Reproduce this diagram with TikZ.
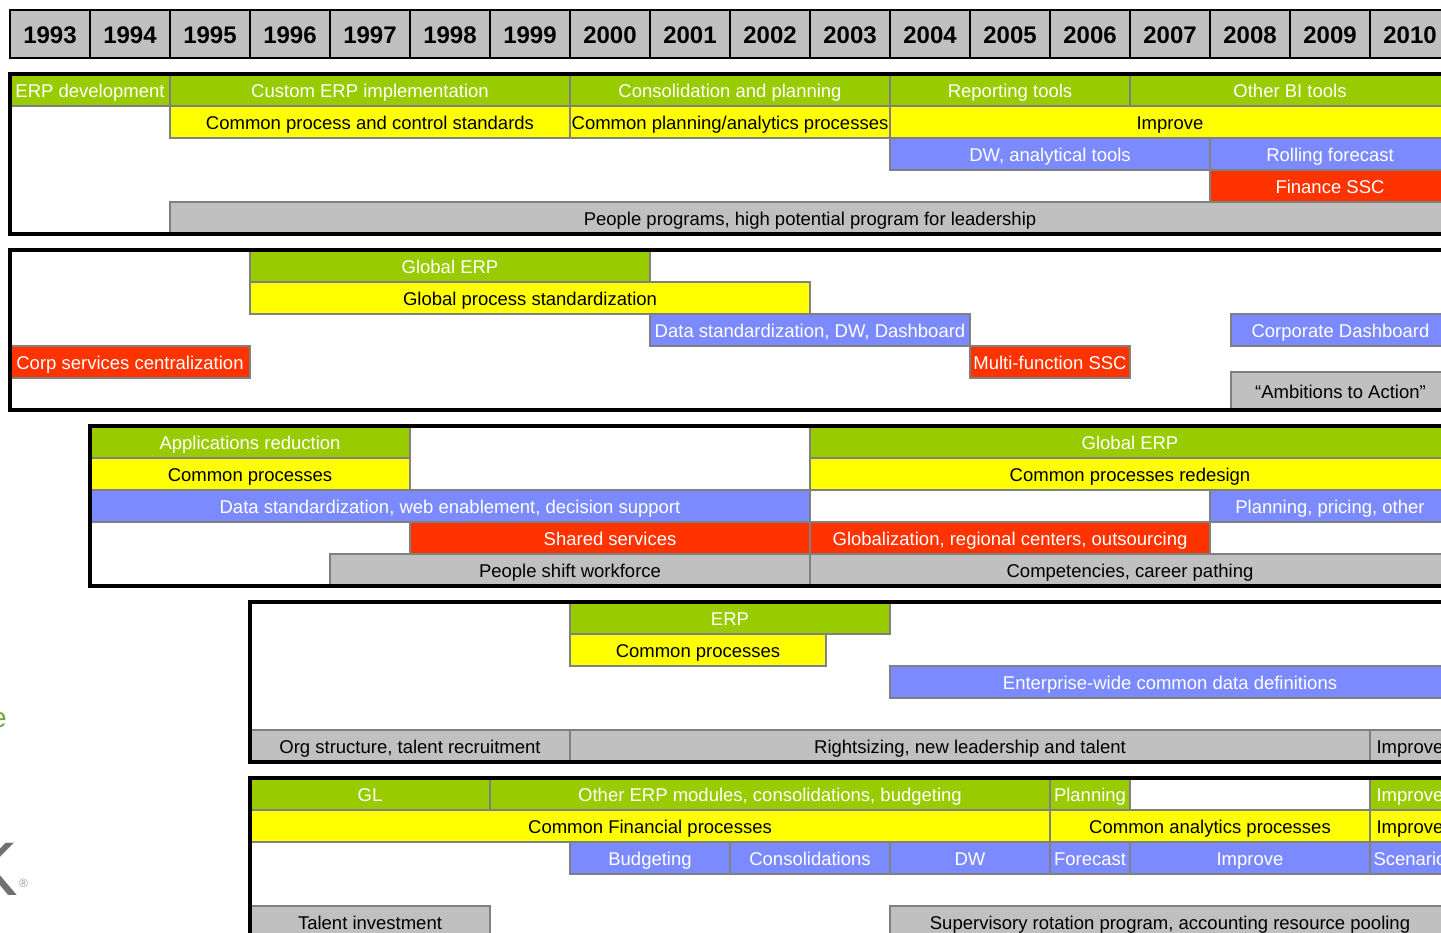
\documentclass[tikz,border=0pt]{standalone}
\usepackage{fontspec}
\setmainfont{Liberation Sans}
\definecolor{cgreen}{HTML}{99CC00}
\definecolor{cyellow}{HTML}{FFFF00}
\definecolor{cblue}{HTML}{7B8BFF}
\definecolor{cred}{HTML}{FF3300}
\definecolor{cgray}{HTML}{C0C0C0}
\definecolor{cedge}{HTML}{808080}
\definecolor{logogreen}{HTML}{6FA83A}
\definecolor{logogray}{HTML}{707070}
\tikzset{
  barbox/.style={draw=cedge, line width=1.6pt, inner sep=0pt, outer sep=0pt,
    minimum height=32pt, text height=17pt, text depth=2pt,
    font=\fontsize{18.5}{20}\selectfont},
  gbar/.style={barbox, fill=cgreen, text=white},
  ybar/.style={barbox, fill=cyellow, text=black},
  bbar/.style={barbox, fill=cblue, text=white},
  rbar/.style={barbox, fill=cred, text=white},
  pbar/.style={barbox, fill=cgray, text=black},
  yearbox/.style={draw=black, line width=2pt, fill=cgray, inner sep=0pt,
    minimum width=80pt, minimum height=48pt, text height=21pt, text depth=1pt,
    font=\fontsize{24}{26}\selectfont\bfseries},
  frame/.style={draw=black, line width=4pt}
}
% \tbar{name}{x1}{x2}{ytop}{style}{text}
\newcommand\tbar[6]{\node[#5, minimum width={(#3-#2)*1pt}] (#1) at ({(#2+#3)/2},{#4+16}) {#6};}
\begin{document}
\begin{tikzpicture}[x=1pt,y=-1pt]
\useasboundingbox (0,0) rectangle (1441,933);
\clip (0,0) rectangle (1441,933);
% years
\foreach \yr [count=\i from 0] in {1993,...,2010}
  \node[yearbox] (y\yr) at ({50+80*\i},34) {\yr};
% ---------- section 1 ----------
\tbar{a1}{10}{170}{74}{gbar}{ERP development}
\tbar{a2}{170}{570}{74}{gbar}{Custom ERP implementation}
\tbar{a3}{570}{890}{74}{gbar}{Consolidation and planning}
\tbar{a4}{890}{1130}{74}{gbar}{Reporting tools}
\tbar{a5}{1130}{1450}{74}{gbar}{Other BI tools}
\tbar{a6}{170}{570}{106}{ybar}{Common process and control standards}
\tbar{a7}{570}{890}{106}{ybar}{Common planning/analytics processes}
\tbar{a8}{890}{1450}{106}{ybar}{Improve}
\tbar{a9}{890}{1210}{138}{bbar}{DW, analytical tools}
\tbar{a10}{1210}{1450}{138}{bbar}{Rolling forecast}
\tbar{a11}{1210}{1450}{170}{rbar}{Finance SSC}
\tbar{a12}{170}{1450}{202}{pbar}{People programs, high potential program for leadership}
\draw[frame] (10,74) rectangle (1470,234);
% ---------- section 2 ----------
\tbar{b1}{250}{650}{250}{gbar}{Global ERP}
\tbar{b2}{250}{810}{282}{ybar}{Global process standardization}
\tbar{b3}{650}{970}{314}{bbar}{Data standardization, DW, Dashboard}
\tbar{b4}{1231}{1450}{314}{bbar}{Corporate Dashboard}
\tbar{b5}{10}{250}{346}{rbar}{Corp services centralization}
\tbar{b6}{970}{1130}{346}{rbar}{Multi-function SSC}
\node[pbar, minimum width=219pt, minimum height=38pt] (b7) at (1340.5,391) {“Ambitions to Action”};
\draw[frame] (10,250) rectangle (1470,410);
% ---------- section 3 ----------
\tbar{c1}{90}{410}{426}{gbar}{Applications reduction}
\tbar{c2}{810}{1450}{426}{gbar}{Global ERP}
\tbar{c3}{90}{410}{458}{ybar}{Common processes}
\tbar{c4}{810}{1450}{458}{ybar}{Common processes redesign}
\tbar{c5}{90}{810}{490}{bbar}{Data standardization, web enablement, decision support}
\tbar{c6}{1210}{1450}{490}{bbar}{Planning, pricing, other}
\tbar{c7}{410}{810}{522}{rbar}{Shared services}
\tbar{c8}{810}{1210}{522}{rbar}{Globalization, regional centers, outsourcing}
\tbar{c9}{330}{810}{554}{pbar}{People shift workforce}
\tbar{c10}{810}{1450}{554}{pbar}{Competencies, career pathing}
\draw[frame] (90,426) rectangle (1470,586);
% ---------- section 4 ----------
\tbar{d1}{570}{890}{602}{gbar}{ERP}
\tbar{d2}{570}{826}{634}{ybar}{Common processes}
\tbar{d3}{890}{1450}{666}{bbar}{Enterprise-wide common data definitions}
\tbar{d4}{250}{570}{730}{pbar}{Org structure, talent recruitment}
\tbar{d5}{570}{1370}{730}{pbar}{Rightsizing, new leadership and talent}
\tbar{d6}{1370}{1450}{730}{pbar}{Improve}
\draw[frame] (250,602) rectangle (1470,762);
% ---------- section 5 ----------
\tbar{e1}{250}{490}{778}{gbar}{GL}
\tbar{e2}{490}{1050}{778}{gbar}{Other ERP modules, consolidations, budgeting}
\tbar{e3}{1050}{1130}{778}{gbar}{Planning}
\tbar{e4}{1370}{1450}{778}{gbar}{Improve}
\tbar{e5}{250}{1050}{810}{ybar}{Common Financial processes}
\tbar{e6}{1050}{1370}{810}{ybar}{Common analytics processes}
\tbar{e7}{1370}{1450}{810}{ybar}{Improve}
\tbar{e8}{570}{730}{842}{bbar}{Budgeting}
\tbar{e9}{730}{890}{842}{bbar}{Consolidations}
\tbar{e10}{890}{1050}{842}{bbar}{DW}
\tbar{e11}{1050}{1130}{842}{bbar}{Forecast}
\tbar{e12}{1130}{1370}{842}{bbar}{Improve}
\tbar{e13}{1370}{1450}{842}{bbar}{Scenario}
\tbar{e14}{250}{490}{906}{pbar}{Talent investment}
\tbar{e15}{890}{1450}{906}{pbar}{Supervisory rotation program, accounting resource pooling}
\draw[frame] (250,778) rectangle (1470,960);
% ---------- logo fragments at the left edge ----------
\node[anchor=base east, inner sep=0pt, text=logogreen, font=\fontsize{28}{30}\selectfont] (lge) at (7,727) {e};
\node[anchor=base east, inner sep=0pt, text=logogray, font=\fontsize{76}{78}\selectfont] (lgk) at (18,895) {K};
\node[anchor=base west, inner sep=0pt, text=logogray!70, font=\fontsize{12}{13}\selectfont] (lgr) at (19,887) {®};
\end{tikzpicture}
\end{document}
